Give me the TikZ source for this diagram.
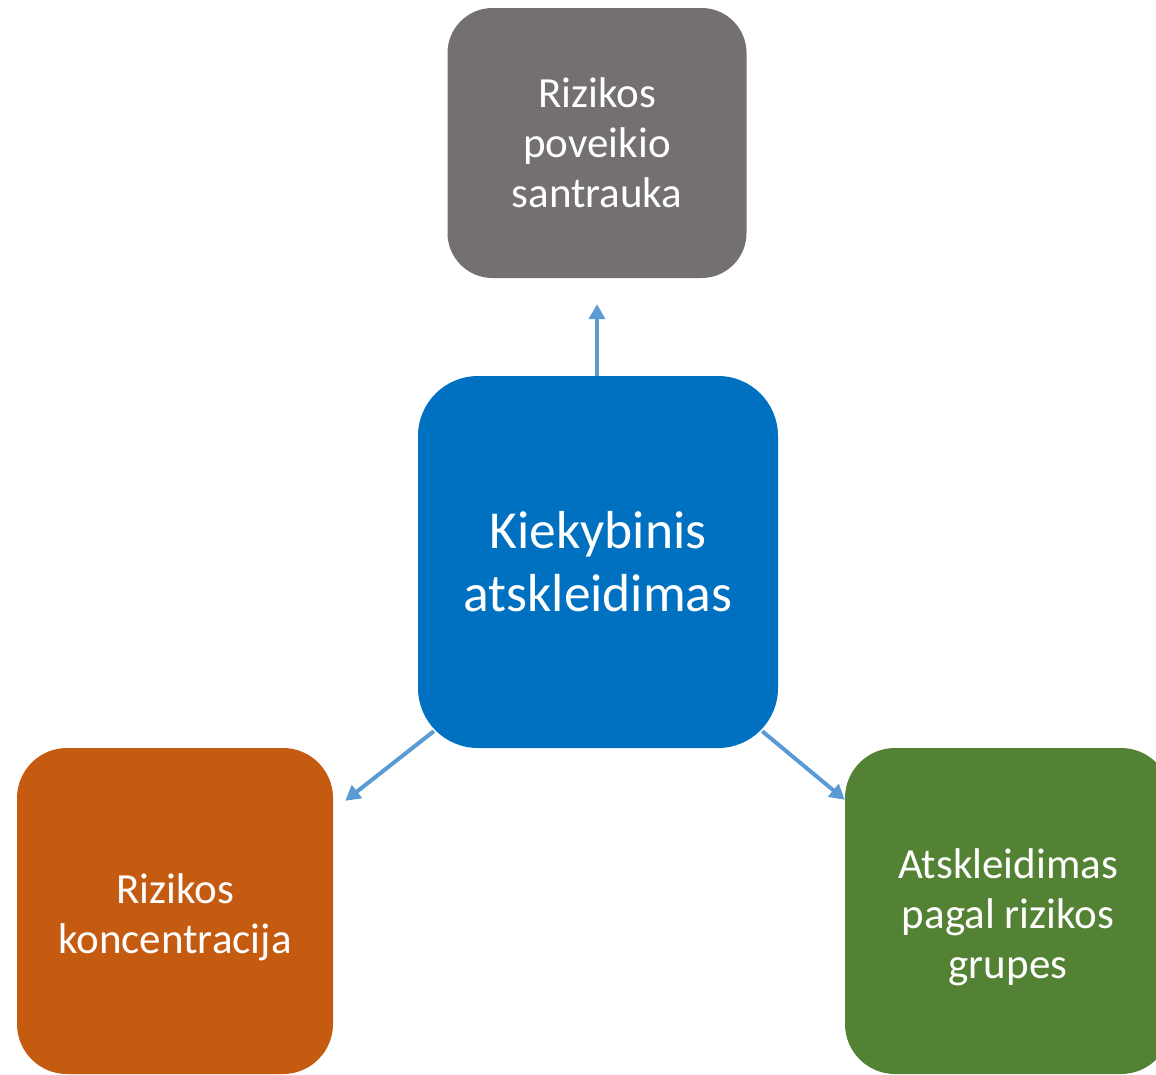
\documentclass[tikz,border=0pt]{standalone}
\usepackage{fontspec}
\setmainfont{Carlito}
\usetikzlibrary{arrows.meta,calc}
\definecolor{cgray}{HTML}{747070}
\definecolor{cblue}{HTML}{0070C0}
\definecolor{corange}{HTML}{C55A11}
\definecolor{cgreen}{HTML}{548235}
\definecolor{carrow}{HTML}{5B9BD5}
\tikzset{
  box/.style={rectangle, inner sep=0pt, text=white, align=center,
    font=\fontsize{43}{50}\selectfont},
  lowtext/.style={text=white, align=center, font=\fontsize{43}{50}\selectfont, yshift=-6pt},
  conn/.style={draw=carrow, line width=4pt, -{Triangle[width=16pt,length=15pt]}}
}
\begin{document}
\begin{tikzpicture}[x=1pt,y=-1pt]
\path[use as bounding box, clip] (0,0) rectangle (1156,1074);
\node[box, fill=cgray, rounded corners=45pt, minimum width=299pt, minimum height=270pt] (t) at (597,143) {Rizikos\\poveikio\\santrauka};
\node[box, fill=cblue, rounded corners=60pt, minimum width=360pt, minimum height=372pt, font=\fontsize{53.5}{63}\selectfont] (c) at (598,562) {Kiekybinis\\atskleidimas};
\node[box, fill=corange, rounded corners=50pt, minimum width=316pt, minimum height=326pt,
  label={[lowtext]center:Rizikos\\koncentracija}] (l) at (175,911) {};
\node[box, fill=cgreen, rounded corners=50pt, minimum width=326pt, minimum height=326pt,
  label={[lowtext]center:Atskleidimas\\pagal rizikos\\grupes}] (g) at (1008,911) {};
\draw[conn] ($(c.north)+(-1,0)$) -- ($(t.south)+(0,26)$);
\draw[conn] ($(c.south west)+(16,-17)$) -- ($(l.north east)+(12,53)$);
\draw[conn] ($(c.south east)+(-16,-17)$) -- ($(g.north west)+(0,52)$);
\end{tikzpicture}
\end{document}
